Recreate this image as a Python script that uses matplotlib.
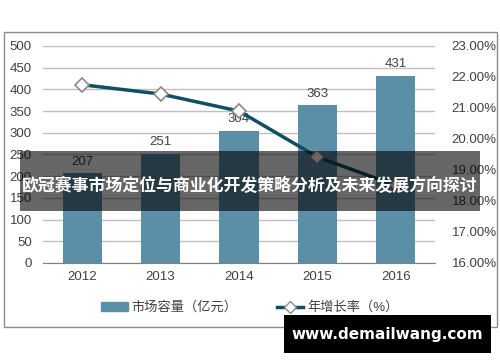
import matplotlib.pyplot as plt
from matplotlib.patches import Rectangle
from matplotlib.lines import Line2D
from matplotlib.patches import Patch

plt.rcParams['font.family'] = ['Liberation Sans', 'Noto Sans CJK SC', 'DejaVu Sans']

# data
years = ["2012", "2013", "2014", "2015", "2016"]
capacity = [207, 251, 304, 363, 431]          # 市场容量（亿元）
growth = [21.75, 21.45, 20.9, 19.42, 18.5]    # 年增长率（%）

bar_color = "#5b8fa8"
line_color = "#0f4f62"
text_color = "#404040"

fig = plt.figure(figsize=(5.0, 3.62), dpi=100)
ax = fig.add_axes([0.086, 0.2735, 0.784, 0.5995])
x = range(len(years))

ax.bar(x, capacity, width=0.5, color=bar_color, zorder=2)
for i, v in enumerate(capacity):
    ax.annotate(str(v), (i, v), xytext=(0, 4), textcoords="offset points",
                ha="center", va="bottom", fontsize=9.5, color=text_color)

ax.set_ylim(0, 500)
ax.set_yticks(range(0, 501, 50))
ax.set_xlim(-0.5, 4.5)
ax.set_xticks(list(x))
ax.set_xticklabels(years)
ax.grid(axis="y", color="#bfbfbf", linewidth=1, zorder=0)
ax.set_axisbelow(True)
for s in ["top", "right", "left"]:
    ax.spines[s].set_visible(False)
ax.spines["bottom"].set_color("#7f7f7f")
ax.tick_params(axis="both", length=0, labelsize=9.5, labelcolor=text_color)
ax.tick_params(axis="y", pad=8)
ax.tick_params(axis="x", pad=6)

ax2 = ax.twinx()
ax2.plot(list(x), growth, color=line_color, linewidth=2.5, marker="D",
         markersize=7, markerfacecolor="white", markeredgecolor="#8a8a8a",
         markeredgewidth=1.2, zorder=3)
ax2.set_ylim(16, 23)
ax2.set_yticks(range(16, 24))
ax2.set_yticklabels([f"{v:.2f}%" for v in range(16, 24)])
for s in ["top", "right", "left", "bottom"]:
    ax2.spines[s].set_visible(False)
ax2.tick_params(axis="y", length=0, labelsize=9.5, labelcolor=text_color, pad=12)

# legend
handles = [Patch(color=bar_color, label="市场容量（亿元）"),
           Line2D([0], [0], color=line_color, linewidth=2.5, marker="D",
                  markersize=6, markerfacecolor="white", markeredgecolor="#8a8a8a",
                  label="年增长率（%）")]
fig.legend(handles=handles, loc="center", bbox_to_anchor=(0.5, 0.15), ncol=2,
           frameon=False, fontsize=9.5, labelcolor=text_color, handlelength=2.0,
           columnspacing=3.0, handletextpad=0.3)

# outer border
fig.patches.append(Rectangle((4 / 500, 1 - 327 / 362), 493 / 500, 295 / 362,
                             transform=fig.transFigure, fill=False,
                             edgecolor="#8c8c8c", linewidth=1))

# title banner
fig.patches.append(Rectangle((20 / 500, 1 - 211 / 362), 460 / 500, 60 / 362,
                             transform=fig.transFigure, facecolor="black",
                             alpha=0.6, zorder=10))
fig.text(0.5, 1 - 186 / 362, "欧冠赛事市场定位与商业化开发策略分析及未来发展方向探讨",
         ha="center", va="center", color="white", fontsize=12.2, fontweight="bold",
         family=["Noto Sans CJK SC", "DejaVu Sans"], zorder=11)

# watermark
fig.patches.append(Rectangle((284 / 500, 1 - 353 / 362), 207 / 500, 38 / 362,
                             transform=fig.transFigure, facecolor="black", zorder=10))
fig.text(387 / 500, 1 - 335 / 362, "www.demailwang.com", ha="center", va="center",
         color="white", fontsize=11, fontweight="bold", family="DejaVu Sans",
         zorder=11)

fig.savefig("out.png", dpi=100)
